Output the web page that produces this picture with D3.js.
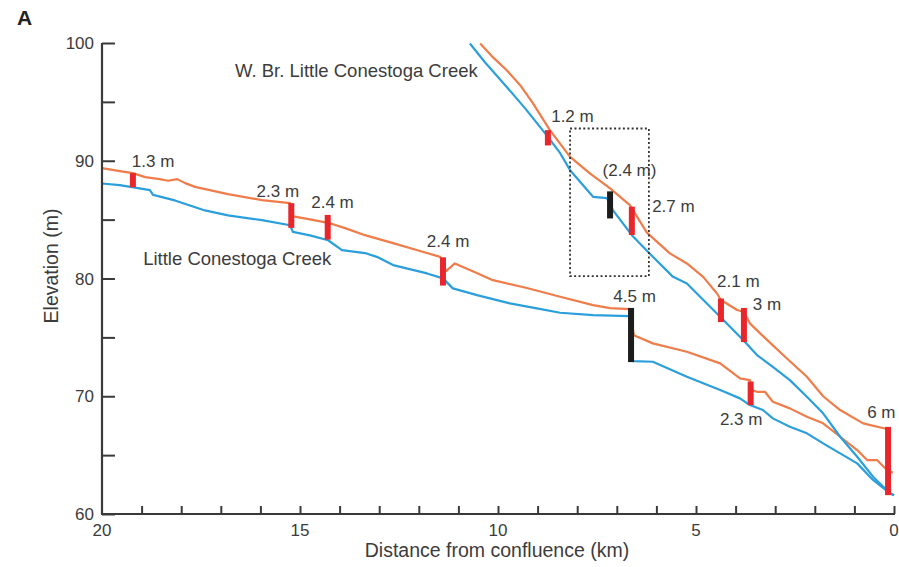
<!DOCTYPE html>
<html>
<head>
<meta charset="utf-8">
<script src="https://cdn.jsdelivr.net/npm/d3@7"></script>
<style>
  html, body { margin: 0; padding: 0; background: #fff; }
  svg { display: block; font-family: "Liberation Sans", Arial, Helvetica, sans-serif; }
</style>
</head>
<body>
<svg id="chart" width="899" height="567"></svg>
<script>
// ---------- DATA ----------
const xTicksMajor = [20, 15, 10, 5, 0];
const yTicksMajor = [60, 70, 80, 90, 100];

// Little Conestoga Creek: water surface (orange) and bed (blue), [km, elevation m]
const lccWater = [[20.0,89.37],[19.55,89.12],[19.22,88.95],[18.91,88.61],[18.54,88.44],[18.33,88.30],[18.10,88.44],[17.9,88.1],[17.65,87.78],[16.82,87.16],[15.96,86.66],[15.25,86.40],[15.2,85.30],[14.75,85.02],[14.29,84.73],[13.86,84.28],[13.36,83.68],[12.65,83.0],[11.97,82.33],[11.46,81.84],[11.31,80.63],[11.09,81.28],[10.58,80.54],[10.13,79.86],[9.27,79.19],[8.43,78.45],[7.60,77.74],[7.17,77.49],[6.67,77.40],[6.57,75.19],[6.09,74.49],[5.23,73.78],[4.39,72.79],[3.89,71.52],[3.64,71.37],[3.58,70.5],[3.46,70.38],[3.26,70.38],[3.06,69.53],[2.63,68.97],[2.20,68.26],[1.79,67.70],[1.36,66.56],[0.93,65.43],[0.68,64.58],[0.43,64.58],[0.18,63.74],[0.03,63.5]];
const lccBed = [[20,88.07],[19.55,87.93],[19.09,87.67],[18.79,87.5],[18.71,87.1],[18.16,86.63],[17.78,86.2],[17.40,85.78],[16.82,85.36],[15.96,84.96],[15.25,84.52],[15.18,83.96],[14.75,83.66],[14.29,83.25],[13.94,82.41],[13.36,82.16],[13.06,81.84],[12.65,81.14],[11.79,80.43],[11.39,80.01],[11.14,79.16],[10.53,78.59],[9.70,77.89],[9.02,77.46],[8.43,77.09],[7.60,76.89],[6.67,76.81],[6.59,72.99],[6.09,72.93],[5.23,71.66],[4.39,70.53],[3.89,69.82],[3.64,69.25],[3.31,68.83],[3.06,68.12],[2.63,67.41],[2.20,66.85],[1.79,66.0],[1.36,65.15],[0.93,64.30],[0.53,62.89],[0.10,61.76],[0,61.6]];

// W. Br. Little Conestoga Creek
const wbrWater = [[10.45,99.96],[10.13,98.8],[9.78,97.69],[9.44,96.42],[9.12,94.89],[8.69,92.60],[8.18,90.33],[7.68,88.92],[7.17,87.65],[6.67,86.23],[6.24,83.9],[5.66,82.13],[5.23,81.28],[4.82,80.14],[4.47,78.73],[4.37,78.17],[3.96,77.32],[3.79,77.15],[3.64,76.19],[3.38,75.34],[2.80,73.5],[2.20,71.66],[1.79,70.0],[1.36,68.83],[0.78,67.7],[0.15,67.2]];
const wbrBed = [[10.71,99.96],[10.33,98.37],[9.78,96.27],[9.32,94.47],[8.94,92.88],[8.74,92.03],[8.43,90.64],[8.18,89.20],[7.60,86.94],[7.25,86.83],[7.10,85.81],[6.62,83.68],[6.09,81.84],[5.58,80.14],[5.23,79.58],[4.39,76.75],[3.81,74.77],[3.46,73.50],[3.06,72.50],[2.63,71.37],[2.20,69.96],[1.79,68.55],[1.36,66.56],[0.93,64.86],[0.53,63.17],[0.10,61.76],[0,61.6]];

// Dam heights: [km, top elevation, bottom elevation, kind]  (kind: "red" existing / "black")
const dams = [
  [19.22, 88.95, 87.75, "red"],
  [15.22, 86.40, 84.30, "red"],
  [14.30, 85.40, 83.30, "red"],
  [11.39, 81.80, 79.40, "red"],
  [6.64, 77.50, 72.90, "black"],
  [3.62, 71.25, 69.25, "red"],
  [0.15, 67.40, 61.60, "red"],
  [8.74, 92.60, 91.30, "red"],
  [7.17, 87.40, 85.10, "black"],
  [6.62, 86.10, 83.70, "red"],
  [4.37, 78.30, 76.30, "red"],
  [3.79, 77.50, 74.60, "red"]
];

// Dam labels: [text, km, elevation]
const damLabels = [
  ["1.3 m", 18.71, 89.46],
  ["2.3 m", 15.56, 86.94],
  ["2.4 m", 14.18, 85.98],
  ["2.4 m", 11.26, 82.69],
  ["4.5 m", 6.55, 78.02],
  ["2.3 m", 3.86, 67.56],
  ["6 m", 0.32, 68.15],
  ["2.1 m", 3.93, 79.30],
  ["3 m", 3.21, 77.32],
  ["1.2 m", 8.12, 93.30],
  ["(2.4 m)", 6.68, 88.69],
  ["2.7 m", 5.57, 85.66]
];

// Creek name labels: [text, km, elevation]
const creekLabels = [
  ["W. Br. Little Conestoga Creek", 16.64, 97.12],
  ["Little Conestoga Creek", 18.96, 81.14]
];

// Dashed inset box: [km left, km right, elev top, elev bottom]
const insetBox = [8.18, 6.19, 92.74, 80.20];

// ---------- CHART ----------
const svg = d3.select("#chart");
const x = d3.scaleLinear().domain([20, 0]).range([102, 894]);
const y = d3.scaleLinear().domain([60, 100]).range([514, 43]);

const axisColor = "#3a3a3a";
const textColor = "#3c3c3c";
const orange = "#f07c4a";
const blue = "#2a9fdb";

// lines
const line = d3.line().x(d => x(d[0])).y(d => y(d[1]));
[[lccWater, orange], [lccBed, blue], [wbrWater, orange], [wbrBed, blue]].forEach(([data, c]) => {
  svg.append("path").datum(data).attr("d", line)
    .attr("fill", "none").attr("stroke", c).attr("stroke-width", 2.2)
    .attr("stroke-linejoin", "round");
});

// dams
svg.selectAll("rect.dam").data(dams).enter().append("rect")
  .attr("class", "dam")
  .attr("x", d => x(d[0]) - 3)
  .attr("width", 6)
  .attr("y", d => y(d[1]))
  .attr("height", d => y(d[2]) - y(d[1]))
  .attr("fill", d => d[3] === "red" ? "#e8262b" : "#1c1c1c");

// inset box
svg.append("rect")
  .attr("x", x(insetBox[0])).attr("y", y(insetBox[2]))
  .attr("width", x(insetBox[1]) - x(insetBox[0]))
  .attr("height", y(insetBox[3]) - y(insetBox[2]))
  .attr("fill", "none").attr("stroke", "#333").attr("stroke-width", 1.8)
  .attr("stroke-dasharray", "2,2.4");

// axes
const yAxis = d3.axisRight(y).tickValues(d3.range(60, 101, 5)).tickSize(13).tickFormat("");
const gy = svg.append("g").attr("transform", `translate(${x(20)},0)`).call(yAxis);
const xAxis = d3.axisTop(x).tickValues(d3.range(0, 20, 1)).tickSize(8).tickFormat("");
const gx = svg.append("g").attr("transform", `translate(0,${y(60)})`).call(xAxis);
[gx, gy].forEach(g => {
  g.select(".domain").attr("stroke", axisColor).attr("stroke-width", 2.2);
  g.selectAll(".tick line").attr("stroke", axisColor).attr("stroke-width", 2);
});
gy.select(".domain").attr("d", `M0,${y(100)}V${y(60)}`);
gx.select(".domain").attr("d", `M${x(20) - 1},0H${x(0) + 1}`);

// tick labels
svg.selectAll("text.ylab").data(yTicksMajor).enter().append("text")
  .attr("x", x(20) - 8).attr("y", d => y(d)).attr("dy", "0.36em")
  .attr("text-anchor", "end").attr("font-size", 17).attr("fill", textColor)
  .text(d => d);
svg.selectAll("text.xlab").data(xTicksMajor).enter().append("text")
  .attr("x", d => x(d)).attr("y", y(60) + 22)
  .attr("text-anchor", "middle").attr("font-size", 17).attr("fill", textColor)
  .text(d => d);

// axis titles
svg.append("text").attr("x", 497).attr("y", 557).attr("text-anchor", "middle")
  .attr("font-size", 19.5).attr("fill", textColor).text("Distance from confluence (km)");
svg.append("text").attr("transform", "translate(58,266) rotate(-90)").attr("text-anchor", "middle")
  .attr("font-size", 19.5).attr("fill", textColor).text("Elevation (m)");

// panel letter
svg.append("text").attr("x", 17).attr("y", 25).attr("font-size", 21).attr("font-weight", "bold")
  .attr("fill", "#222").text("A");

// dam labels
svg.selectAll("text.dlab").data(damLabels).enter().append("text")
  .attr("x", d => x(d[1])).attr("y", d => y(d[2]))
  .attr("text-anchor", "middle").attr("font-size", 17).attr("fill", textColor)
  .text(d => d[0]);

// creek labels
svg.selectAll("text.clab").data(creekLabels).enter().append("text")
  .attr("x", d => x(d[1])).attr("y", d => y(d[2]))
  .attr("text-anchor", "start").attr("font-size", 18.5).attr("fill", textColor)
  .text(d => d[0]);
</script>
</body>
</html>
